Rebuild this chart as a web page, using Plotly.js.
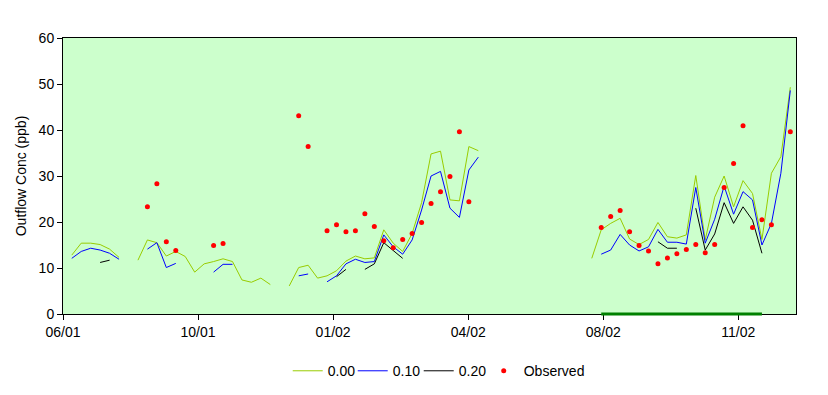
<!DOCTYPE html>
<html><head><meta charset="utf-8">
<script src="https://cdn.plot.ly/plotly-3.0.1.min.js"></script>
<style>html,body{margin:0;padding:0;background:#fff}</style>
</head><body><div id="chart" style="width:828px;height:395px"></div>
<script>
const _ = null;
// weekly sample dates
const dates = [
  '2001-07-05','2001-07-12','2001-07-19','2001-07-26','2001-08-02','2001-08-09','2001-08-16','2001-08-23','2001-08-30','2001-09-06',
  '2001-09-13','2001-09-20','2001-09-27','2001-10-04','2001-10-11','2001-10-18','2001-10-25','2001-11-01','2001-11-08','2001-11-15',
  '2001-11-22','2001-11-29','2001-12-06','2001-12-13','2001-12-20','2001-12-27','2002-01-03','2002-01-10','2002-01-17','2002-01-24',
  '2002-01-31','2002-02-07','2002-02-14','2002-02-21','2002-02-28','2002-03-07','2002-03-14','2002-03-21','2002-03-28','2002-04-04',
  '2002-04-11','2002-04-18','2002-04-25','2002-05-02','2002-05-09','2002-05-16','2002-05-23','2002-05-30','2002-06-06','2002-06-13',
  '2002-06-20','2002-06-27','2002-07-04','2002-07-11','2002-07-18','2002-07-25','2002-08-01','2002-08-08','2002-08-15','2002-08-22',
  '2002-08-29','2002-09-05','2002-09-12','2002-09-19','2002-09-26','2002-10-03','2002-10-10','2002-10-17','2002-10-24','2002-10-31',
  '2002-11-07','2002-11-14','2002-11-21','2002-11-28','2002-12-05','2002-12-12','2002-12-19'
];
const s000 = [
  12.8, 15.4, 15.4, 15.1, 14.1, 12.3, _, 11.7, 16.1, 15.5,
  12.6, 13.6, 12.5, 9.1, 10.9, 11.4, 12.0, 11.4, 7.4, 6.9,
  7.8, 6.4, _, 6.1, 10.1, 10.6, 7.8, 8.3, 9.4, 11.5,
  12.6, 12.0, 12.2, 18.3, 15.4, 13.6, 17.5, 24.2, 34.8, 35.4,
  24.8, 24.6, 36.4, 35.5, _, _, _, _, _, _,
  _, _, _, _, _, 12.1, 18.3, 19.7, 20.8, 16.3,
  15.1, 16.2, 19.9, 16.8, 16.5, 17.2, 30.1, 16.1, 25.4, 30.0,
  23.3, 29.0, 26.2, 16.2, 30.6, 34.2, 49.3
];
const s010 = [
  12.1, 13.6, 14.3, 13.9, 13.2, 11.9, _, _, 14.1, 15.5,
  10.1, 11.0, _, _, _, 9.1, 10.8, 10.8, _, _,
  _, _, _, _, 8.3, 8.7, _, 7.0, 8.3, 10.9,
  11.9, 11.2, 11.4, 17.2, 14.6, 13.0, 16.1, 22.6, 30.0, 31.0,
  23.0, 21.0, 31.3, 34.1, _, _, _, _, _, _,
  _, _, _, _, _, _, 13.0, 13.9, 17.3, 15.0,
  13.7, 14.6, 18.4, 15.6, 15.6, 15.2, 27.5, 15.4, 20.6, 27.8,
  21.7, 26.6, 24.8, 15.0, 19.7, 30.6, 48.6
];
const s020 = [
  _, _, _, 11.2, 11.7, _, _, _, _, _,
  _, _, _, _, _, _, _, _, _, _,
  _, _, _, _, _, _, _, _, 8.1, 9.7,
  _, 9.7, 10.9, 15.5, 13.9, 12.1, _, _, _, _,
  _, _, _, _, _, _, _, _, _, _,
  _, _, _, _, _, _, _, _, _, _,
  _, _, 15.7, 14.3, 14.3, _, 23.0, 13.9, 17.4, 24.2,
  19.7, 23.3, 20.4, 13.2, _, _, _
];
const observed = [
  _, _, _, _, _, _, _, _, 23.3, 28.3,
  15.7, 13.8, _, _, _, 14.9, 15.3, _, _, _,
  _, _, _, _, 43.1, 36.4, _, 18.1, 19.4, 17.9,
  18.1, 21.8, 19.0, 15.9, 14.4, 16.2, 17.5, 19.9, 24.0, 26.6,
  29.9, 39.6, 24.4, _, _, _, _, _, _, _,
  _, _, _, _, _, _, 18.8, 21.2, 22.5, 17.9,
  14.9, 13.7, 10.9, 12.2, 13.1, 14.0, 15.1, 13.3, 15.1, 27.5,
  32.7, 40.9, 18.8, 20.5, 19.4, _, 39.6
];
const seriesNames = ['0.00', '0.10', '0.20', 'Observed'];
const tickDates = ['2001-06-28 12:00','2001-10-06 12:00','2002-01-14 12:00','2002-04-24 12:00','2002-08-02 12:00','2002-11-10 12:00'];
const tickLabels = ['06/01','10/01','01/02','04/02','08/02','11/02'];
const periodStart = dates[56];
const periodEnd = dates[73];

const FONT = 'Liberation Sans, Arial, sans-serif';
const traces = [
  {x: dates, y: s000, name: seriesNames[0], mode: 'lines', line: {color: '#99CC00', width: 1}, legend: 'legend'},
  {x: dates, y: s010, name: seriesNames[1], mode: 'lines', line: {color: '#0000FF', width: 1}, legend: 'legend2'},
  {x: dates, y: s020, name: seriesNames[2], mode: 'lines', line: {color: '#000000', width: 1}, legend: 'legend3'},
  {x: dates, y: observed, name: seriesNames[3], mode: 'markers', marker: {color: '#FF0000', size: 5, symbol: 'circle'}, legend: 'legend4'}
];
function leg(x) {
  return {orientation: 'h', xref: 'container', yref: 'container', xanchor: 'left', yanchor: 'top', y: 0.1008, x: x,
    font: {family: FONT, size: 14, color: '#000'}, bgcolor: 'rgba(0,0,0,0)'};
}
const layout = {
  width: 828, height: 395,
  margin: {l: 63, r: 32, t: 38, b: 81},
  paper_bgcolor: '#FFFFFF', plot_bgcolor: '#CCFFCC',
  font: {family: FONT, size: 14, color: '#000'},
  showlegend: true,
  legend: leg(0.3475), legend2: leg(0.4260), legend3: leg(0.5057), legend4: leg(0.5842),
  xaxis: {type: 'date', range: ['2001-06-28 12:00', '2002-12-23 05:00'],
          tickmode: 'array', tickvals: tickDates, ticktext: tickLabels,
          ticks: 'outside', ticklen: 5, tickcolor: '#000', tickwidth: 1,
          showgrid: false, zeroline: false, showline: true, linecolor: '#000', linewidth: 1, mirror: true,
          tickfont: {family: FONT, size: 14, color: '#000'}},
  yaxis: {range: [0, 60], tickvals: [0,10,20,30,40,50,60],
          ticks: 'outside', ticklen: 5, tickcolor: '#000', tickwidth: 1,
          showgrid: false, zeroline: false, showline: true, linecolor: '#000', linewidth: 1, mirror: true,
          tickfont: {family: FONT, size: 14, color: '#000'},
          title: {text: 'Outflow Conc (ppb)', font: {family: FONT, size: 14, color: '#000'}, standoff: 8}},
  shapes: [{type: 'line', xref: 'x', yref: 'paper', x0: periodStart, x1: periodEnd, y0: 0, y1: 0,
            line: {color: '#008000', width: 3}, layer: 'above'}]
};
Plotly.newPlot('chart', traces, layout, {displayModeBar: false, staticPlot: true});
</script>
</body></html>
